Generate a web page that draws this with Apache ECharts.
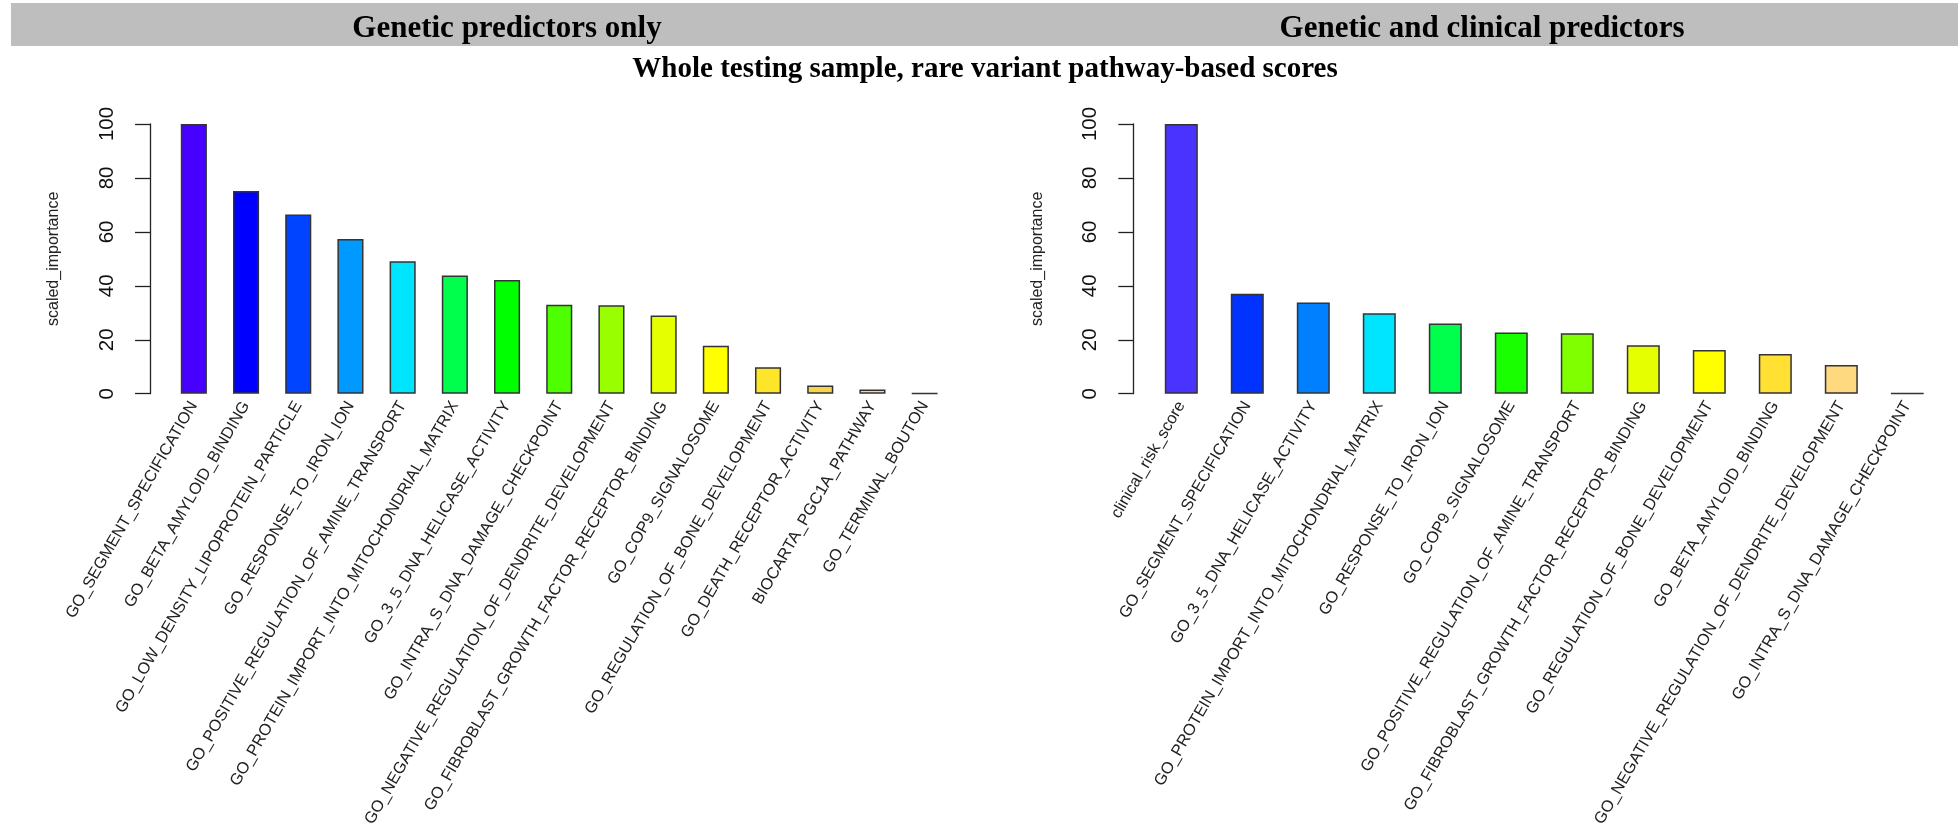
<!DOCTYPE html>
<html>
<head>
<meta charset="utf-8">
<script src="https://cdn.jsdelivr.net/npm/echarts@6/dist/echarts.min.js"></script>
<style>html,body{margin:0;padding:0;background:#fff}#c{width:1959px;height:824px}</style>
</head>
<body>
<div id="c"></div>
<script>
var leftCategories = ["GO_SEGMENT_SPECIFICATION","GO_BETA_AMYLOID_BINDING","GO_LOW_DENSITY_LIPOPROTEIN_PARTICLE","GO_RESPONSE_TO_IRON_ION","GO_POSITIVE_REGULATION_OF_AMINE_TRANSPORT","GO_PROTEIN_IMPORT_INTO_MITOCHONDRIAL_MATRIX","GO_3_5_DNA_HELICASE_ACTIVITY","GO_INTRA_S_DNA_DAMAGE_CHECKPOINT","GO_NEGATIVE_REGULATION_OF_DENDRITE_DEVELOPMENT","GO_FIBROBLAST_GROWTH_FACTOR_RECEPTOR_BINDING","GO_COP9_SIGNALOSOME","GO_REGULATION_OF_BONE_DEVELOPMENT","GO_DEATH_RECEPTOR_ACTIVITY","BIOCARTA_PGC1A_PATHWAY","GO_TERMINAL_BOUTON"];
var leftValues = [100, 75.2, 66.4, 57.4, 49.1, 43.8, 42.2, 33.0, 32.8, 29.0, 17.8, 9.8, 3.0, 1.6, 0.1];
var leftColors = ["#4700FF","#0000FF","#0044FF","#0099FF","#00E5FF","#00FF4D","#00FF00","#4DFF00","#99FF00","#E6FF00","#FFFF00","#FFE529","#F8D44C","#FFD977","#FFE0A0"];

var rightCategories = ["clinical_risk_score","GO_SEGMENT_SPECIFICATION","GO_3_5_DNA_HELICASE_ACTIVITY","GO_PROTEIN_IMPORT_INTO_MITOCHONDRIAL_MATRIX","GO_RESPONSE_TO_IRON_ION","GO_COP9_SIGNALOSOME","GO_POSITIVE_REGULATION_OF_AMINE_TRANSPORT","GO_FIBROBLAST_GROWTH_FACTOR_RECEPTOR_BINDING","GO_REGULATION_OF_BONE_DEVELOPMENT","GO_BETA_AMYLOID_BINDING","GO_NEGATIVE_REGULATION_OF_DENDRITE_DEVELOPMENT","GO_INTRA_S_DNA_DAMAGE_CHECKPOINT"];
var rightValues = [100, 37.1, 33.8, 29.8, 26.0, 22.7, 22.4, 18.0, 16.2, 14.7, 10.6, 0.1];
var rightColors = ["#4B33FF","#0033FF","#0080FF","#00E5FF","#00FF4D","#1AFF00","#80FF00","#E5FF00","#FFFF00","#FFE033","#FFD980","#FFE8B0"];

var yTicks = [0, 20, 40, 60, 80, 100];

var FONT = "Liberation Sans, Arial, Helvetica, sans-serif";
var SERIF = "Liberation Serif, Times New Roman, serif";

function makeY(gridIndex, offset) {
  return {
    type: 'value', gridIndex: gridIndex, min: yTicks[0], max: yTicks[yTicks.length-1], interval: 20,
    offset: offset,
    name: 'scaled_importance', nameLocation: 'middle', nameGap: 88, nameRotate: 90,
    nameTextStyle: {fontFamily: FONT, fontSize: 16, color: '#222'},
    axisLine: {show: true, lineStyle: {color: '#222', width: 1.3}},
    axisTick: {show: true, length: 15, lineStyle: {color: '#222', width: 1.3}},
    axisLabel: {show: true, rotate: 90, margin: 32, fontFamily: FONT, fontSize: 20.5, color: '#111'},
    splitLine: {show: false}
  };
}
function makeX(gridIndex, cats) {
  return {
    type: 'category', gridIndex: gridIndex, data: cats, boundaryGap: true,
    axisLine: {show: false}, axisTick: {show: false},
    axisLabel: {show: true, interval: 0, rotate: 60, margin: 9, fontFamily: FONT, fontSize: 16.3, color: '#222'}
  };
}
function makeBar(idx, vals, cols) {
  return {
    type: 'bar', xAxisIndex: idx, yAxisIndex: idx,
    barCategoryGap: '50%',
    data: vals.map(function (v, i) {
      return {value: v, itemStyle: {color: cols[i], borderColor: '#333', borderWidth: 1.5}};
    }),
    animation: false
  };
}

var chart = echarts.init(document.getElementById('c'));
chart.setOption({
  animation: false,
  backgroundColor: '#fff',
  graphic: [{
    type: 'rect', shape: {x: 11, y: 3, width: 1947, height: 43}, style: {fill: '#BEBEBE'}, silent: true, z: -10
  }],
  title: [
    {text: 'Genetic predictors only', left: 502, top: 8, textAlign: 'center',
     textStyle: {fontFamily: SERIF, fontWeight: 'bold', fontSize: 31, color: '#000'}},
    {text: 'Genetic and clinical predictors', left: 1477, top: 8, textAlign: 'center',
     textStyle: {fontFamily: SERIF, fontWeight: 'bold', fontSize: 31, color: '#000'}},
    {text: 'Whole testing sample, rare variant pathway-based scores', left: 980, top: 50, textAlign: 'center',
     textStyle: {fontFamily: SERIF, fontWeight: 'bold', fontSize: 29, color: '#000'}}
  ],
  grid: [
    {left: 167.75, top: 124, width: 783, height: 269.7, containLabel: false, outerBoundsMode: 'none'},
    {left: 1148.3, top: 124, width: 792, height: 269.7, containLabel: false, outerBoundsMode: 'none'}
  ],
  xAxis: [makeX(0, leftCategories), makeX(1, rightCategories)],
  yAxis: [makeY(0, 17.75), makeY(1, 15)],
  series: [makeBar(0, leftValues, leftColors), makeBar(1, rightValues, rightColors)]
});
</script>
</body>
</html>
